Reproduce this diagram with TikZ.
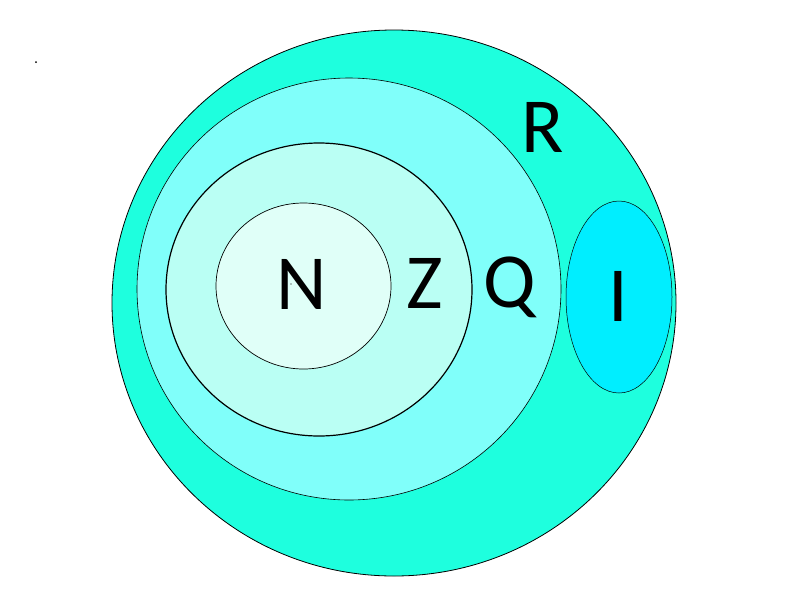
\documentclass[tikz,border=0pt]{standalone}
\usepackage{fontspec}
\setmainfont{Carlito}
\usepackage{tikz}
\definecolor{setR}{RGB}{30,255,222}
\definecolor{setQ}{RGB}{128,255,250}
\definecolor{setZ}{RGB}{186,255,244}
\definecolor{setN}{RGB}{224,255,248}
\definecolor{setI}{RGB}{0,238,255}
\tikzset{setlbl/.style={font=\fontsize{78}{80}\selectfont, inner sep=0pt}}

\begin{document}
\begin{tikzpicture}[x=1pt, y=-1pt]
\useasboundingbox (0,0) rectangle (800,600);
% nested number sets
\draw[fill=setR, line width=0.8pt] (394,303) ellipse[x radius=282, y radius=273];
\draw[fill=setQ, line width=0.6pt] (349,289) ellipse[x radius=212, y radius=211];
\draw[fill=setZ, line width=1.2pt] (319,289.5) ellipse[x radius=153, y radius=146.5];
\draw[fill=setN, line width=0.7pt] (303.5,286) ellipse[x radius=87.5, y radius=83];
% irrationals
\draw[fill=setI, line width=0.5pt] (619,297) ellipse[x radius=53, y radius=96];
% labels
\node[setlbl] (lblN) at (302,284) {N};
\node[setlbl] (lblZ) at (425,283) {Z};
\node[setlbl] (lblQ) at (510,287) {Q};
\node[setlbl] (lblR) at (543,127) {R};
\node[setlbl] (lblI) at (618,296) {I};
% stray marks
\fill (36,62) circle (1pt);
\fill (291,284) circle (0.6pt);
\end{tikzpicture}
\end{document}
